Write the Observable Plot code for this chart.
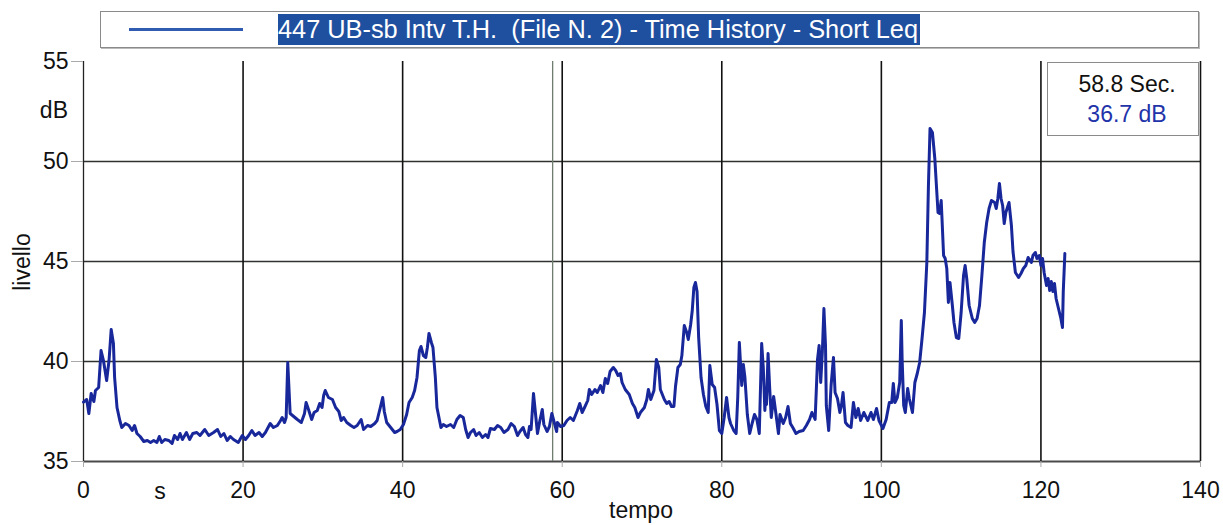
<!DOCTYPE html>
<html>
<head>
<meta charset="utf-8">
<script src="https://cdn.jsdelivr.net/npm/d3@7"></script>
<script src="https://cdn.jsdelivr.net/npm/@observablehq/plot@0.6"></script>
<style>
  body { margin: 0; background: #fff; }
  #wrap { position: relative; width: 1223px; height: 525px; font-family: "Liberation Sans", Arial, sans-serif; overflow: hidden; }
  #chart { position: absolute; left: 0; top: 0; }
  .abs { position: absolute; white-space: nowrap; }
</style>
</head>
<body>
<div id="wrap">
  <div id="chart"></div>
  <div class="abs" id="legend" style="left:100px;top:11px;width:1097px;height:35px;border:1px solid #8a8a8a;box-shadow:1px 1px 0 #bbb;background:#fff;">
    <div class="abs" id="legline" style="left:28px;top:16px;width:114px;height:3px;background:#2f5cb0;"></div>
    <div class="abs" id="ttlbox" style="left:177px;top:2px;height:31px;background:#1f4f9f;overflow:visible;">
      <span id="ttl" style="display:inline-block;white-space:pre;color:#fff;font-size:25px;line-height:31px;transform-origin:0 0;"></span>
    </div>
  </div>
  <div class="abs" id="readout" style="left:1047px;top:62px;width:150px;height:72px;border:1px solid #8a8a8a;background:#fff;text-align:center;font-size:23px;">
    <div id="ro1" style="position:absolute;left:8px;right:0;top:8px;color:#111;"></div>
    <div id="ro2" style="position:absolute;left:8px;right:0;top:38px;color:#2233aa;"></div>
  </div>
  <div class="abs" id="ylab" style="left:22px;top:262px;font-size:23px;color:#111;transform:translate(-50%,-50%) rotate(-90deg);"></div>
  <div class="abs" id="yunit" style="right:1155px;top:97px;font-size:23px;color:#111;"></div>
  <div class="abs" id="xlab" style="left:641px;top:497px;font-size:23px;color:#111;transform:translateX(-50%);"></div>
  <div class="abs" id="xunit" style="left:160px;top:478px;font-size:23px;color:#111;transform:translateX(-50%);"></div>
</div>
<script>
// ---- data ----
const seriesName = "447 UB-sb Intv T.H.  (File N. 2) - Time History - Short Leq";
const cursorTime = 58.8;
const cursorText = "58.8 Sec.";
const cursorLevel = "36.7 dB";
const xLabel = "tempo", xUnit = "s", yLabel = "livello", yUnit = "dB";
const xTicks = [0, 20, 40, 60, 80, 100, 120, 140];
const yTicks = [35, 40, 45, 50, 55];

const times = [
0,0.4,0.67,0.96,1.3,1.5,1.9,2.2,2.5,2.9,3.2,3.47,3.75,3.9,4.2,4.55,4.8,5.26,5.7,6.1,6.4,6.7,7.1,7.56,8.0,8.4,8.8,9.2,9.5,9.8,10.2,10.7,11.1,11.4,11.8,12.1,12.4,12.9,13.3,13.7,14.2,14.6,15.2,15.7,16.3,16.8,17.2,17.6,18.0,18.4,18.8,19.4,19.9,20.3,20.7,21.1,21.5,22.0,22.4,22.8,23.4,23.8,24.3,24.7,24.9,25.2,25.4,25.6,25.9,26.2,26.8,27.3,27.7,27.9,28.2,28.6,28.9,29.3,29.6,29.9,
30.1,30.3,30.7,31.2,31.6,32.0,32.3,32.6,33.0,33.5,33.9,34.3,34.8,35.1,35.6,36.0,36.5,36.8,37.2,37.5,37.7,38.0,38.5,39.0,39.3,39.7,40.1,40.5,40.8,41.2,41.5,41.8,42.1,42.3,42.6,42.9,43.1,43.3,43.6,43.8,44.1,44.3,44.5,44.8,45.1,45.5,46.0,46.4,46.8,47.2,47.6,47.9,48.2,48.5,48.9,49.2,49.6,50.0,50.4,50.7,51.0,51.5,51.9,52.3,52.7,53.2,53.6,54.0,54.4,54.7,55.1,55.4,55.7,55.9,56.1,56.4,56.7,56.9,57.2,57.5,57.7,58.1,58.4,58.7,58.9,59.3,59.4,59.8,
60.2,60.6,61.0,61.4,61.9,62.2,62.5,62.8,63.2,63.4,63.7,64.1,64.4,64.8,65.1,65.4,65.7,66.0,66.4,66.7,67.0,67.3,67.5,67.9,68.4,68.8,69.1,69.5,69.8,70.3,70.6,70.8,71.1,71.5,71.8,72.1,72.3,72.8,73.1,73.4,73.7,74.0,74.2,74.5,74.8,75.0,75.3,75.6,75.8,76.1,76.3,76.5,76.7,76.9,77.1,77.4,77.7,78.0,78.3,78.5,78.8,79.1,79.4,79.7,80.0,80.3,80.6,80.9,81.1,81.5,81.8,82.0,82.2,82.4,82.5,82.7,82.9,83.2,83.5,83.8,84.1,84.4,84.7,85.0,85.2,85.4,85.5,85.6,85.8,86.0,86.2,86.5,86.8,87.1,87.3,87.7,88.0,88.3,88.6,88.9,89.3,89.7,
90.2,90.6,91.0,91.3,91.7,92.0,92.2,92.4,92.6,92.8,93.0,93.1,93.4,93.7,94.0,94.2,94.5,94.8,95.0,95.2,95.5,95.8,96.2,96.5,96.8,97.1,97.4,97.8,98.3,98.7,99.0,99.4,99.7,100.2,100.6,101.0,101.3,101.5,101.7,102.0,102.3,102.5,102.6,102.8,103.0,103.3,103.5,103.9,104.2,104.5,104.8,105.1,105.4,105.7,105.9,106.1,106.4,106.7,106.9,107.1,107.3,107.5,107.6,107.8,108.0,108.2,108.4,108.6,108.9,109.1,109.4,109.7,110.0,110.3,110.5,110.7,111.0,111.4,111.7,112.0,112.3,112.6,112.9,113.2,113.5,113.8,114.2,114.4,114.6,114.8,115.0,115.2,115.4,115.6,115.8,116.0,116.3,116.5,116.8,117.2,117.5,117.8,118.1,118.4,118.8,119.0,119.3,119.5,119.8,120.0,120.2,120.4,120.7,120.9,121.1,121.3,121.5,121.7,121.9,122.2,122.5,122.7,122.8,123.0
];
const levels = [
37.97,38.1,37.4,38.4,38.0,38.55,38.7,40.55,40.05,39.05,40.05,41.6,40.9,39.2,37.7,37.05,36.7,36.9,36.8,36.55,36.8,36.4,36.25,36.0,36.05,35.95,36.05,35.95,36.25,35.95,36.1,36.05,35.9,36.3,36.1,36.4,36.1,36.45,36.1,36.4,36.45,36.3,36.6,36.3,36.45,36.6,36.25,36.4,36.05,36.25,36.1,35.95,36.3,36.1,36.3,36.55,36.3,36.45,36.25,36.45,36.9,36.7,36.8,37.05,37.2,36.95,37.2,39.95,37.4,37.3,37.1,36.95,37.4,37.95,37.6,37.1,37.45,37.55,37.9,37.7,
38.3,38.55,38.2,38.1,37.7,37.5,37.05,37.2,36.95,36.8,36.7,36.8,37.1,36.6,36.8,36.75,36.9,37.05,37.7,38.2,37.5,36.95,36.7,36.45,36.5,36.6,36.85,37.35,37.95,38.2,38.55,39.2,40.55,40.75,40.3,40.2,40.7,41.4,40.95,40.7,39.2,37.7,37.3,36.7,36.85,36.75,36.85,36.7,37.1,37.3,37.2,36.6,36.2,36.45,36.6,36.3,36.45,36.2,36.35,36.2,36.65,36.6,36.8,36.7,36.45,36.6,36.9,36.75,36.3,36.5,36.7,36.35,36.2,36.75,36.6,38.4,37.2,36.4,37.05,37.6,36.85,36.5,36.75,37.4,37.1,36.5,36.95,36.75,
36.8,37.05,37.2,37.05,37.55,37.9,37.45,37.7,38.05,38.6,38.35,38.6,38.45,38.8,38.45,39.15,38.9,39.5,39.7,39.55,39.3,39.4,38.95,38.6,38.35,37.9,37.7,37.2,37.45,37.7,38.1,38.6,38.1,38.55,40.1,39.7,38.6,38.1,37.9,38.0,37.75,37.75,38.75,39.7,39.85,40.3,41.8,41.45,41.1,41.85,42.55,43.7,43.95,43.5,41.2,39.2,38.35,37.75,37.45,39.8,38.85,38.7,37.85,36.55,36.4,37.2,38.2,37.2,36.9,36.55,36.4,38.2,40.95,39.5,38.8,39.85,39.2,37.35,36.4,36.9,37.35,37.1,36.4,40.9,39.7,37.55,38.35,37.85,40.4,38.7,37.2,38.25,37.35,36.4,37.35,36.9,37.2,37.75,36.9,36.7,36.4,36.5,
36.55,36.8,37.1,37.45,37.1,40.1,40.8,38.95,40.45,42.65,40.8,37.8,36.55,38.8,40.2,38.45,38.15,37.45,37.8,38.45,36.95,36.8,36.7,37.95,37.2,37.65,37.05,37.45,37.05,37.45,37.1,37.65,37.05,36.65,37.1,37.95,37.95,38.9,37.95,38.2,38.95,42.05,40.15,37.8,37.45,38.65,38.15,37.45,38.95,39.4,39.95,41.15,42.45,44.95,48.8,51.65,51.45,50.15,48.8,47.45,47.4,48.05,47.15,45.3,45.15,44.65,42.95,43.95,42.8,41.95,41.2,41.15,42.45,44.3,44.8,44.15,42.8,42.15,41.95,42.15,42.8,44.3,45.95,46.95,47.65,48.05,47.95,47.65,48.15,48.9,48.15,47.8,46.9,47.45,47.7,47.95,46.8,45.5,44.45,44.2,44.4,44.65,44.8,45.2,44.95,45.3,45.45,45.15,45.3,44.8,45.15,44.45,43.8,44.15,43.55,44.0,43.5,43.9,43.15,42.65,42.15,41.7,43.5,45.4
];

const data = times.map((t, i) => ({t, v: levels[i]}));

const chart = Plot.plot({
  width: 1223,
  height: 525,
  marginTop: 61,
  marginBottom: 64,
  marginLeft: 83,
  marginRight: 23,
  style: {fontFamily: "'Liberation Sans', Arial, sans-serif", fontSize: "23px", color: "#111", background: "transparent"},
  x: {domain: [0, 140], label: null},
  y: {domain: [35, 55], label: null},
  marks: [
    Plot.ruleY(yTicks.filter(d => d > 35 && d < 55), {stroke: "#2e332e", strokeWidth: 1.6}),
    Plot.ruleY([35], {stroke: "#4a4a4a", strokeWidth: 2}),
    Plot.ruleX(xTicks.filter(d => d > 0), {stroke: "#111", strokeWidth: 1.6}),
    Plot.ruleX([0], {stroke: "#222", strokeWidth: 1.3}),
    Plot.ruleX([cursorTime], {stroke: "#6f7d6f", strokeWidth: 1.3}),
    Plot.line(data, {x: "t", y: "v", stroke: "#18279a", strokeWidth: 3, strokeLinejoin: "round"}),
    Plot.axisX({ticks: xTicks, tickSize: 6, tickPadding: 14, stroke: "#aaa", fontSize: 23}),
    Plot.axisY({ticks: yTicks, tickSize: 12, tickPadding: 3, stroke: "#aaa", fontSize: 23})
  ]
});
document.getElementById("chart").appendChild(chart);

document.getElementById("ttl").textContent = seriesName;
document.getElementById("ro1").textContent = cursorText;
document.getElementById("ro2").textContent = cursorLevel;
document.getElementById("ylab").textContent = yLabel;
document.getElementById("yunit").textContent = yUnit;
document.getElementById("xlab").textContent = xLabel;
document.getElementById("xunit").textContent = xUnit;

// fit the legend title to the reference's text width
const ttl = document.getElementById("ttl");
const w = ttl.getBoundingClientRect().width;
const target = 640;
ttl.style.transform = `scaleX(${target / w})`;
document.getElementById("ttlbox").style.width = (target + 2) + "px";
</script>
</body>
</html>
